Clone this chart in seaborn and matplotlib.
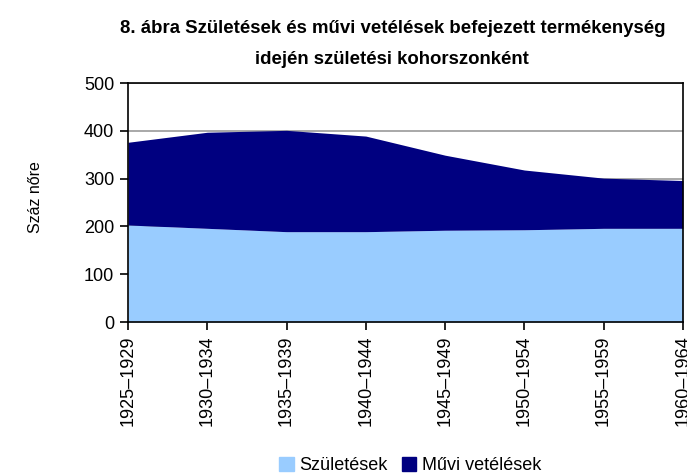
import matplotlib
matplotlib.use("Agg")
import matplotlib.pyplot as plt
import matplotlib.patches as mpatches
import seaborn as sns

kohorszok = ["1925–1929", "1930–1934", "1935–1939", "1940–1944",
             "1945–1949", "1950–1954", "1955–1959", "1960–1964"]
szuletesek = [203, 196, 189, 189, 192, 193, 196, 196]
muvi_vetelesek = [173, 201, 212, 200, 157, 125, 105, 100]

sns.set_theme(style="white")
plt.rcParams["font.family"] = ["Liberation Sans", "DejaVu Sans"]
plt.rcParams["text.color"] = "black"

szin_szul = "#99ccff"
szin_muvi = "#000080"

fig = plt.figure(figsize=(6.87, 4.76), dpi=100)
ax = fig.add_axes([0.1863, 0.3235, 0.8077, 0.5021])

x = list(range(len(kohorszok)))
osszes = [a + b for a, b in zip(szuletesek, muvi_vetelesek)]
ax.fill_between(x, 0, szuletesek, color=szin_szul, linewidth=0, zorder=2)
ax.fill_between(x, szuletesek, osszes, color=szin_muvi, linewidth=0, zorder=2)

ax.set_xlim(0, len(kohorszok) - 1)
ax.set_ylim(0, 500)
ax.set_yticks(range(0, 501, 100))
ax.yaxis.grid(True, color="#999999", linewidth=1.2, zorder=1)
ax.set_axisbelow(True)
ax.set_xticks(x)
ax.set_xticklabels(kohorszok, rotation=90, fontsize=13, color="black")
ax.tick_params(axis="y", labelsize=13, labelcolor="black", pad=4)
ax.tick_params(axis="both", direction="out", length=6, width=1.2,
               color="black", bottom=True, left=True)
for s in ax.spines.values():
    s.set_color("black")
    s.set_linewidth(1.2)
    s.set_zorder(3)

fig.text(0.051, 0.586, "Száz nőre", rotation=90, fontsize=11.5,
         ha="center", va="center")
fig.text(0.571, 0.941, "8. ábra Születések és művi vetélések befejezett termékenység",
         fontsize=13.4, fontweight="bold", ha="center", va="center")
fig.text(0.571, 0.874, "idején születési kohorszonként",
         fontsize=13.4, fontweight="bold", ha="center", va="center")

handles = [mpatches.Patch(color=szin_szul, label="Születések"),
           mpatches.Patch(color=szin_muvi, label="Művi vetélések")]
fig.legend(handles=handles, loc="center", bbox_to_anchor=(0.597, 0.022),
           ncol=2, frameon=False, fontsize=13, handlelength=0.8,
           handleheight=0.8, handletextpad=0.3, columnspacing=0.8)

fig.savefig("out.png", dpi=100)
